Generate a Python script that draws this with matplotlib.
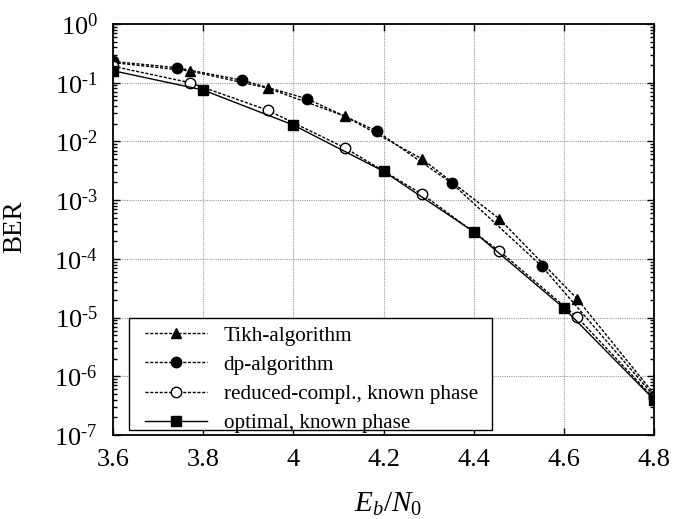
import math
import matplotlib
matplotlib.use("Agg")
import matplotlib.pyplot as plt
from matplotlib.patches import Rectangle
from matplotlib.ticker import FixedLocator, FuncFormatter, LogLocator, NullFormatter

# data
tikh_x = [3.6, 3.771, 3.943, 4.114, 4.286, 4.457, 4.629, 4.8]
tikh_y = [0.22, 0.158, 0.081, 0.027, 0.005, 4.8e-4, 2.1e-5, 5.0e-7]

dp_x = [3.6, 3.742, 3.887, 4.031, 4.185, 4.351, 4.551, 4.8]
dp_y = [0.23, 0.18, 0.11, 0.053, 0.015, 0.00195, 7.5e-5, 4.6e-7]

red_x = [3.6, 3.771, 3.943, 4.114, 4.286, 4.457, 4.629, 4.8]
red_y = [0.19, 0.10, 0.034, 0.0078, 0.00126, 1.36e-4, 1.02e-5, 4.2e-7]

opt_x = [3.6, 3.8, 4.0, 4.2, 4.4, 4.6, 4.8]
opt_y = [0.16, 0.075, 0.019, 0.0031, 2.9e-4, 1.45e-5, 4.0e-7]

labels = ["Tikh-algorithm", "dp-algorithm", "reduced-compl., known phase", "optimal, known phase"]
x_ticks = [3.6, 3.8, 4.0, 4.2, 4.4, 4.6, 4.8]
x_tick_labels = ["3.6", "3.8", "4", "4.2", "4.4", "4.6", "4.8"]

plt.rcParams['font.family'] = ['Liberation Serif', 'DejaVu Serif']
plt.rcParams['mathtext.fontset'] = 'custom'
plt.rcParams['mathtext.rm'] = 'Liberation Serif'
plt.rcParams['mathtext.it'] = 'Liberation Serif:italic'


def pow_label(v, pos):
    k = int(round(math.log10(v)))
    if k < 0:
        return '$\\mathregular{10^{\u2010%d}}$' % (-k)
    return '$\\mathregular{10^{%d}}$' % k


fig = plt.figure(figsize=(6.74, 5.19), dpi=100)
ax = fig.add_axes([0.1677, 0.1618, 0.8027, 0.792])

dash = (0, (2.2, 1.2))
ax.plot(tikh_x, tikh_y, color='black', linestyle=dash, linewidth=1.0,
        marker='^', markersize=7, label=labels[0])
ax.plot(dp_x, dp_y, color='black', linestyle=dash, linewidth=1.0,
        marker='o', markersize=7.5, label=labels[1])
ax.plot(red_x, red_y, color='black', linestyle=dash, linewidth=1.0,
        marker='o', markersize=7.5, markerfacecolor='white', markeredgewidth=1.0, label=labels[2])
ax.plot(opt_x, opt_y, color='black', linestyle='-', linewidth=1.0,
        marker='s', markersize=7.5, label=labels[3])

ax.set_yscale('log')
ax.set_xlim(3.6, 4.8)
ax.set_ylim(1e-7, 1)

ax.xaxis.set_major_locator(FixedLocator(x_ticks))
ax.set_xticklabels(x_tick_labels)
ax.yaxis.set_major_locator(LogLocator(base=10, numticks=20))
ax.yaxis.set_minor_locator(LogLocator(base=10, subs=range(2, 10), numticks=20))
ax.yaxis.set_minor_formatter(NullFormatter())
ax.yaxis.set_major_formatter(FuncFormatter(pow_label))

ax.tick_params(which='both', direction='in', top=True, right=True, labelsize=19, width=1.0)
ax.tick_params(which='major', length=5)
ax.tick_params(which='minor', length=3)
ax.tick_params(axis='x', which='major', pad=10)
ax.tick_params(axis='y', which='major', pad=11)
ax.grid(True, which='major', color='#999999', linestyle=(0, (1, 1)), linewidth=0.8)
for s in ax.spines.values():
    s.set_linewidth(1.3)

ax.set_ylabel('BER', fontsize=19.5)
ax.yaxis.set_label_coords(-0.159, 0.506)
ax.set_xlabel(r'$E_b/N_0$', fontsize=21)
ax.xaxis.set_label_coords(0.508, -0.135)

# legend box drawn separately so the padding can differ sideways and vertically
ax.add_patch(Rectangle((0.0296, 0.0122), 0.671, 0.2725, transform=ax.transAxes,
                       facecolor='white', edgecolor='black', linewidth=1.0, zorder=4))
leg = ax.legend(loc='center left', bbox_to_anchor=(0.059, 0.135), borderaxespad=0,
                fontsize=15.2, handlelength=2.95, handletextpad=0.78, labelspacing=0.45,
                borderpad=0, frameon=False)
leg.set_zorder(5)

fig.savefig('out.png', dpi=100)
